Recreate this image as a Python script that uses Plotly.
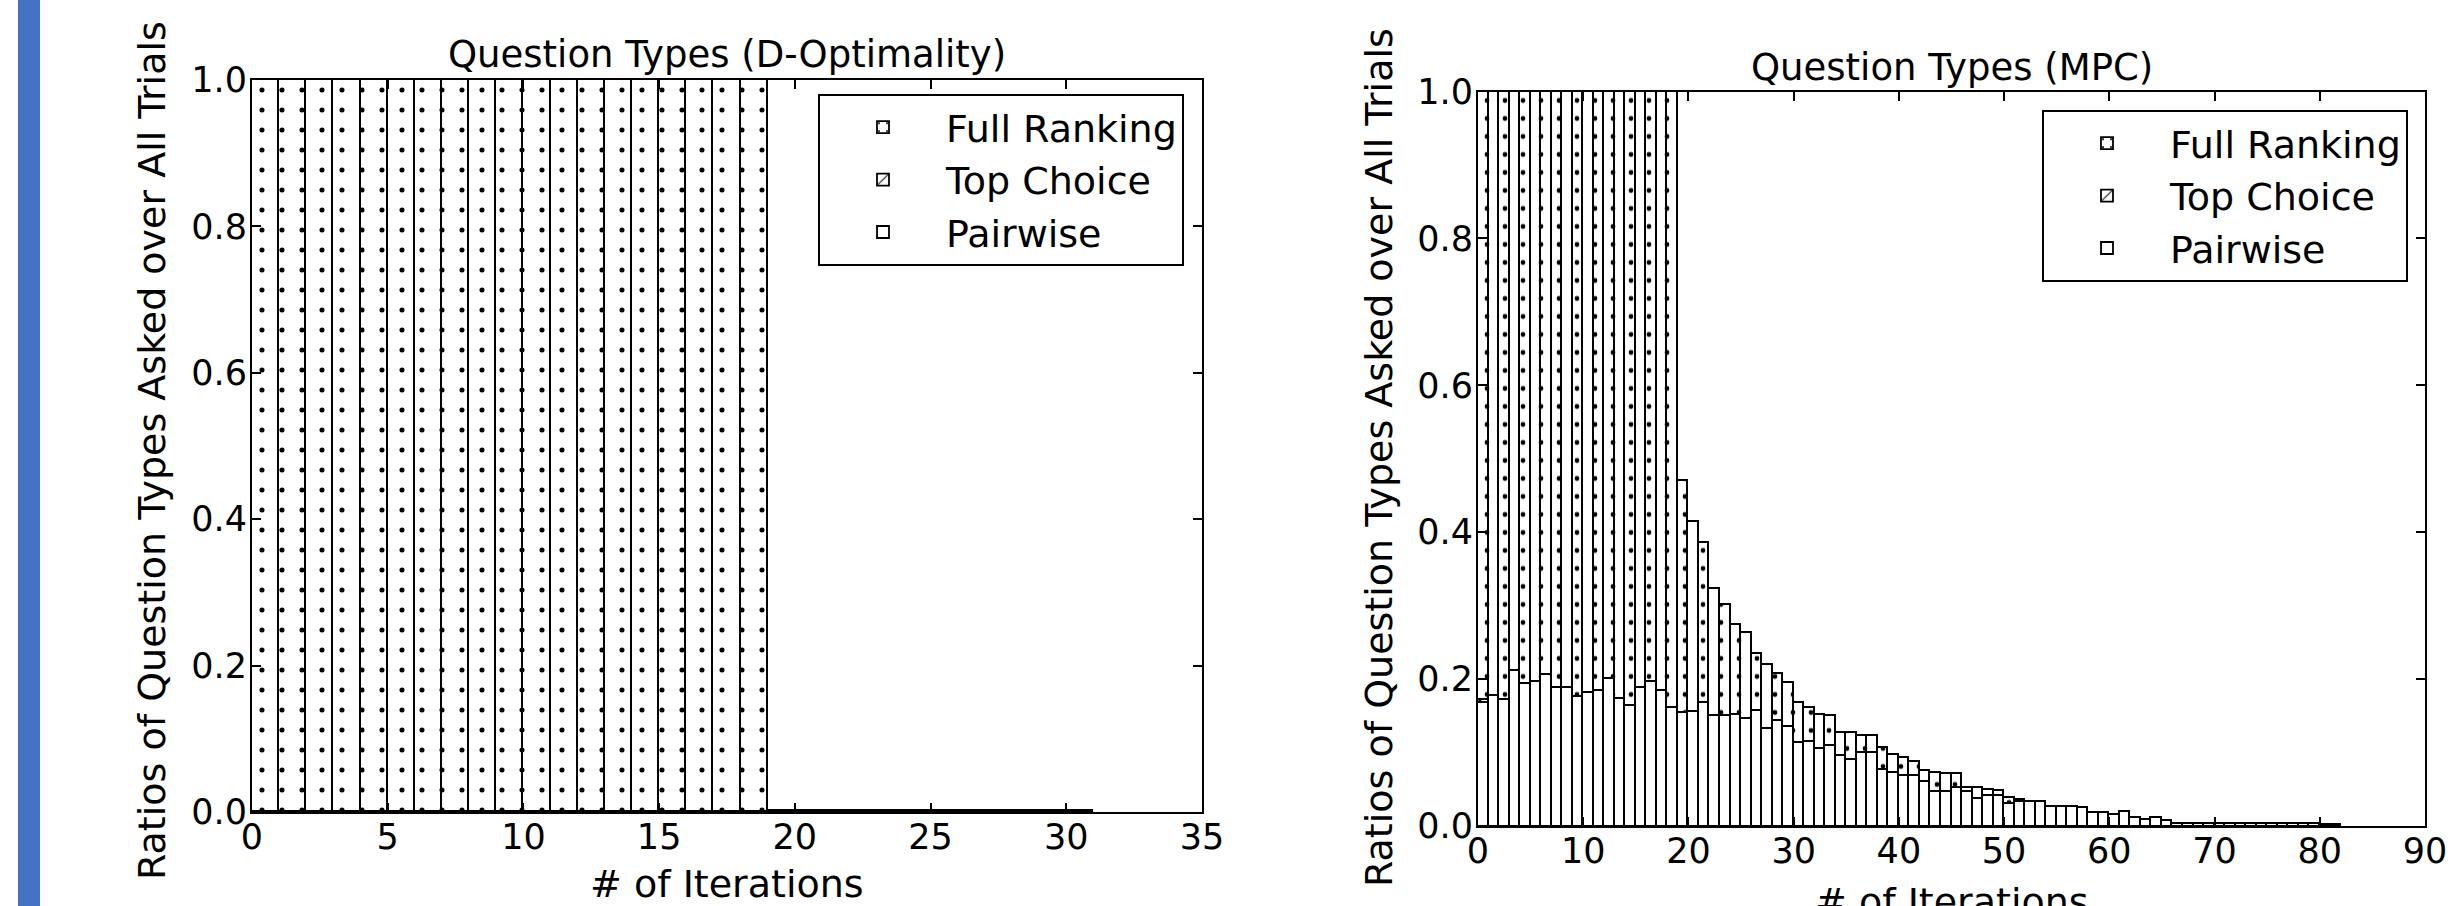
import plotly.graph_objects as go

# ---------------- data ----------------
# D-Optimality panel (bins of width 1 starting at 0)
dopt_iter = list(range(31))
dopt_full = [1.0] * 19 + [0.0] * 12
dopt_top = [0.0] * 31
dopt_pair = [0.0] * 19 + [0.002] * 12

# MPC panel
mpc_iter = list(range(82))
mpc_pair = [0.168, 0.177, 0.172, 0.212, 0.194, 0.197, 0.206, 0.189, 0.189, 0.176,
            0.182, 0.185, 0.201, 0.174, 0.164, 0.188, 0.197, 0.184, 0.161, 0.154,
            0.156, 0.168, 0.150, 0.150, 0.152, 0.147, 0.157, 0.133, 0.144, 0.135,
            0.114, 0.115, 0.106, 0.110, 0.096, 0.090, 0.100, 0.100, 0.077, 0.073,
            0.069, 0.069, 0.060, 0.047, 0.047, 0.052, 0.047, 0.038, 0.042, 0.041,
            0.031, 0.033, 0.033, 0.033, 0.027, 0.027, 0.027, 0.025, 0.018, 0.018,
            0.015, 0.020, 0.011, 0.009, 0.011, 0.008, 0.003, 0.003, 0.003, 0.003,
            0.003, 0.003, 0.003, 0.003, 0.003, 0.003, 0.003, 0.003, 0.003, 0.003,
            0.0015, 0.0015]
mpc_top = [0.004] + [0.0] * 81
mpc_full = [0.828, 0.823, 0.828, 0.788, 0.806, 0.803, 0.794, 0.811, 0.811, 0.824,
            0.818, 0.815, 0.799, 0.826, 0.836, 0.812, 0.803, 0.816, 0.839, 0.316,
            0.258, 0.218, 0.173, 0.152, 0.123, 0.116, 0.078, 0.087, 0.063, 0.060,
            0.054, 0.047, 0.046, 0.040, 0.031, 0.037, 0.023, 0.023, 0.030, 0.025,
            0.024, 0.019, 0.015, 0.026, 0.024, 0.019, 0.005, 0.014, 0.008, 0.007,
            0.008, 0.003] + [0.0] * 30

series_names = ["Pairwise", "Top Choice", "Full Ranking"]
series_patterns = ["", "/", "."]

y_ticks = [0.0, 0.2, 0.4, 0.6, 0.8, 1.0]
dopt_xticks = [0, 5, 10, 15, 20, 25, 30, 35]
mpc_xticks = [0, 10, 20, 30, 40, 50, 60, 70, 80, 90]

title_left = "Question Types (D-Optimality)"
title_right = "Question Types (MPC)"
ylab = "Ratios of Question Types Asked over All Trials"
xlab = "# of Iterations"

# ---------------- figure ----------------
W, H = 2463, 906
FONT = "DejaVu Sans"
fig = go.Figure()

def add_panel(iters, vals_list, xa, ya, legend, psize, solid, tag):
    centers = [i + 0.5 for i in iters]
    for name, pat, vals in zip(series_names, series_patterns, vals_list):
        fig.add_trace(go.Bar(
            x=centers, y=vals, width=1.0, name=name,
            xaxis=xa, yaxis=ya, legend=legend, legendgroup=tag + name,
            marker=dict(color="white",
                        line=dict(color="black", width=1.8),
                        pattern=dict(shape=pat, fgcolor="black", bgcolor="white",
                                     size=psize, solidity=solid if pat == "." else 0.12,
                                     fillmode="replace")),
        ))

add_panel(dopt_iter, [dopt_pair, dopt_top, dopt_full], "x", "y", "legend", 20, 0.05, "L")
add_panel(mpc_iter, [mpc_pair, mpc_top, mpc_full], "x2", "y2", "legend2", 18, 0.055, "R")

def px(x):
    return x / W

def py(y):
    return 1 - y / H

axis_common = dict(showline=True, linecolor="black", linewidth=2, mirror="ticks",
                   ticks="inside", ticklen=9, tickwidth=1.5, tickcolor="black",
                   showgrid=False, zeroline=False, automargin=False,
                   tickfont=dict(family=FONT, size=35, color="black"))

lx0, lx1, ly0, ly1 = 252, 1202, 80, 812
rx0, rx1, ry0, ry1 = 1478, 2425, 91.5, 826

legend_common = dict(xanchor="right", yanchor="top",
                     bgcolor="white", bordercolor="black", borderwidth=2,
                     traceorder="reversed", itemwidth=116, tracegroupgap=15,
                     font=dict(family=FONT, size=38, color="black"))

fig.update_layout(
    width=W, height=H, margin=dict(l=0, r=0, t=0, b=0, pad=0, autoexpand=False),
    paper_bgcolor="white", plot_bgcolor="white",
    barmode="stack", bargap=0, showlegend=True,
    font=dict(family=FONT, color="black"),
    xaxis=dict(domain=[px(lx0), px(lx1)], range=[0, 35], tickvals=dopt_xticks,
               anchor="y", ticklabelstandoff=-7, **axis_common),
    yaxis=dict(domain=[py(ly1), py(ly0)], range=[0, 1], tickvals=y_ticks,
               tickformat=".1f", anchor="x", ticklabelstandoff=-4, **axis_common),
    xaxis2=dict(domain=[px(rx0), px(rx1)], range=[0, 90], tickvals=mpc_xticks,
                anchor="y2", ticklabelstandoff=-7, **axis_common),
    yaxis2=dict(domain=[py(ry1), py(ry0)], range=[0, 1], tickvals=y_ticks,
                tickformat=".1f", anchor="x2", ticklabelstandoff=-4, **axis_common),
    legend=dict(x=px(1184), y=py(94), **legend_common),
    legend2=dict(x=px(2408), y=py(110), **legend_common),
)

fig.add_shape(type="rect", xref="paper", yref="paper", x0=px(18), x1=px(40),
              y0=0, y1=1, fillcolor="#4472C4", line=dict(width=0), layer="above")

title_font = dict(family=FONT, size=37, color="black")
lab_font = dict(family=FONT, size=38, color="black")
fig.add_annotation(text=title_left, xref="paper", yref="paper",
                   x=px((lx0 + lx1) / 2), y=py(55), showarrow=False, font=title_font,
                   xanchor="center", yanchor="middle")
fig.add_annotation(text=title_right, xref="paper", yref="paper",
                   x=px((rx0 + rx1) / 2), y=py(67), showarrow=False, font=title_font,
                   xanchor="center", yanchor="middle")
fig.add_annotation(text=ylab, xref="paper", yref="paper", textangle=-90,
                   x=px(152), y=py(451), showarrow=False, font=lab_font,
                   xanchor="center", yanchor="middle")
fig.add_annotation(text=ylab, xref="paper", yref="paper", textangle=-90,
                   x=px(1379), y=py(458), showarrow=False, font=lab_font,
                   xanchor="center", yanchor="middle")
fig.add_annotation(text=xlab, xref="paper", yref="paper",
                   x=px((lx0 + lx1) / 2), y=py(884), showarrow=False, font=lab_font,
                   xanchor="center", yanchor="middle")
fig.add_annotation(text=xlab, xref="paper", yref="paper",
                   x=px((rx0 + rx1) / 2), y=py(902), showarrow=False, font=lab_font,
                   xanchor="center", yanchor="middle")

fig.write_html("out.html",
               config={"displayModeBar": False},
               post_script="document.body.style.margin='0px';"
                           "document.body.style.overflow='hidden';")
